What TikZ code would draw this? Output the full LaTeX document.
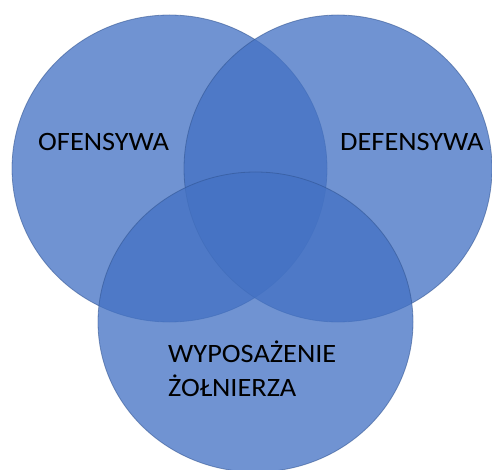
\documentclass[tikz,border=0pt]{standalone}
\usepackage{fontspec}
\setmainfont{Carlito}
\definecolor{vblue}{HTML}{4472C4}
\definecolor{vedge}{HTML}{2F528F}
\tikzset{
  venn/.style={fill=vblue, fill opacity=0.76, draw=vedge, draw opacity=0.55, line width=0.8pt},
  lbl/.style={inner sep=0pt, anchor=base west, font=\fontsize{26.5}{34}\selectfont, text=black, align=left, xscale=1.07, transform shape}
}
\begin{document}
\begin{tikzpicture}[x=1pt,y=-1pt]
\useasboundingbox (0,0) rectangle (492,470);
\clip (0,0) rectangle (492,470);
\fill[white] (0,0) rectangle (492,470);
\path[venn] (169.5,168.5) ellipse [x radius=157.5pt, y radius=153.5pt];
\path[venn] (338,168.5) ellipse [x radius=154pt, y radius=153.5pt];
\path[venn] (255.5,322) ellipse [x radius=157.5pt, y radius=150pt];
\node[lbl] (ofe) at (38,151) {OFENSYWA};
\node[lbl] (def) at (340,151) {DEFENSYWA};
\node[lbl] (wyp) at (168,396) {WYPOSAŻENIE\\ŻOŁNIERZA};
\end{tikzpicture}
\end{document}
